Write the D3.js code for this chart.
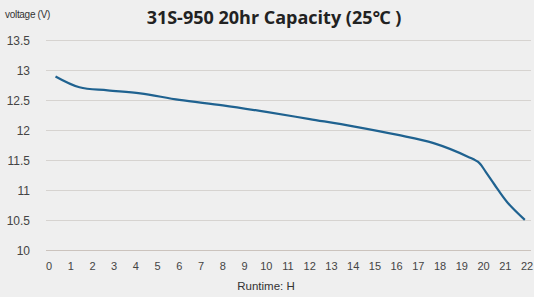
<!DOCTYPE html>
<html><head><meta charset="utf-8">
<script src="https://cdn.jsdelivr.net/npm/d3@7"></script>
<style>
html,body{margin:0;padding:0;background:#efefef;}
svg{display:block;}
</style></head>
<body>
<script>
const hours = [0.3, 1.4, 2.7, 4.2, 6, 8, 10, 12, 14, 16, 17.7, 19.3, 19.8, 20.1, 20.5, 21.1, 21.9];
const voltage = [12.9, 12.72, 12.67, 12.62, 12.51, 12.42, 12.31, 12.19, 12.07, 11.93, 11.79, 11.56, 11.46, 11.31, 11.1, 10.8, 10.51];
const xTicks = d3.range(0, 23);
const yTicks = [10, 10.5, 11, 11.5, 12, 12.5, 13, 13.5];
const yTickLabels = ["10", "10.5", "11", "11.5", "12", "12.5", "13", "13.5"];

const W = 534, H = 297;
const svg = d3.select("body").append("svg").attr("width", W).attr("height", H);
svg.append("rect").attr("width", W).attr("height", H).attr("fill", "#efefef");

const x = d3.scaleLinear().domain([0, 22]).range([49, 527]);
const y = d3.scaleLinear().domain([10, 13.5]).range([250.5, 40.5]);
const narrow = "'Liberation Sans Narrow','Arial Narrow','Liberation Sans',sans-serif";

// gridlines
svg.append("g").selectAll("line").data(yTicks).join("line")
  .attr("x1", 46).attr("x2", 531)
  .attr("y1", d => y(d)).attr("y2", d => y(d))
  .attr("stroke", d => d === 10 ? "#cbc3bd" : "#d6d3d0").attr("stroke-width", 1.2);

// y labels
svg.append("g").selectAll("text").data(yTicks).join("text")
  .attr("x", 30).attr("y", d => y(d) + 4)
  .attr("text-anchor", "end")
  .attr("font-family", narrow).attr("font-size", 12).attr("fill", "#444")
  .text((d, i) => yTickLabels[i]);

// x labels
svg.append("g").selectAll("text").data(xTicks).join("text")
  .attr("x", d => x(d)).attr("y", 270)
  .attr("text-anchor", "middle")
  .attr("font-family", narrow).attr("font-size", 11).attr("fill", "#444")
  .text(d => d);

// line
const line = d3.line().x((d, i) => x(hours[i])).y(d => y(d)).curve(d3.curveCatmullRom.alpha(0.5));
svg.append("path").datum(voltage).attr("d", line)
  .attr("fill", "none").attr("stroke", "#1f6290").attr("stroke-width", 2.2)
  .attr("stroke-linejoin", "round");

// title
svg.append("text").attr("x", 274).attr("y", 24).attr("text-anchor", "middle")
  .attr("font-family", "'Open Sans','Noto Sans',sans-serif").attr("font-weight", "bold")
  .attr("font-size", 18).attr("fill", "#222")
  .text("31S-950 20hr Capacity (25℃ )");

svg.append("text").attr("x", 5).attr("y", 18)
  .attr("font-family", narrow).attr("font-size", 10).attr("fill", "#333")
  .attr("letter-spacing", -0.3)
  .text("voltage (V)");

svg.append("text").attr("x", 266).attr("y", 290).attr("text-anchor", "middle")
  .attr("font-family", "'Liberation Sans',Arial,sans-serif").attr("font-size", 11.5).attr("fill", "#333")
  .text("Runtime:  H");
</script>
</body></html>
